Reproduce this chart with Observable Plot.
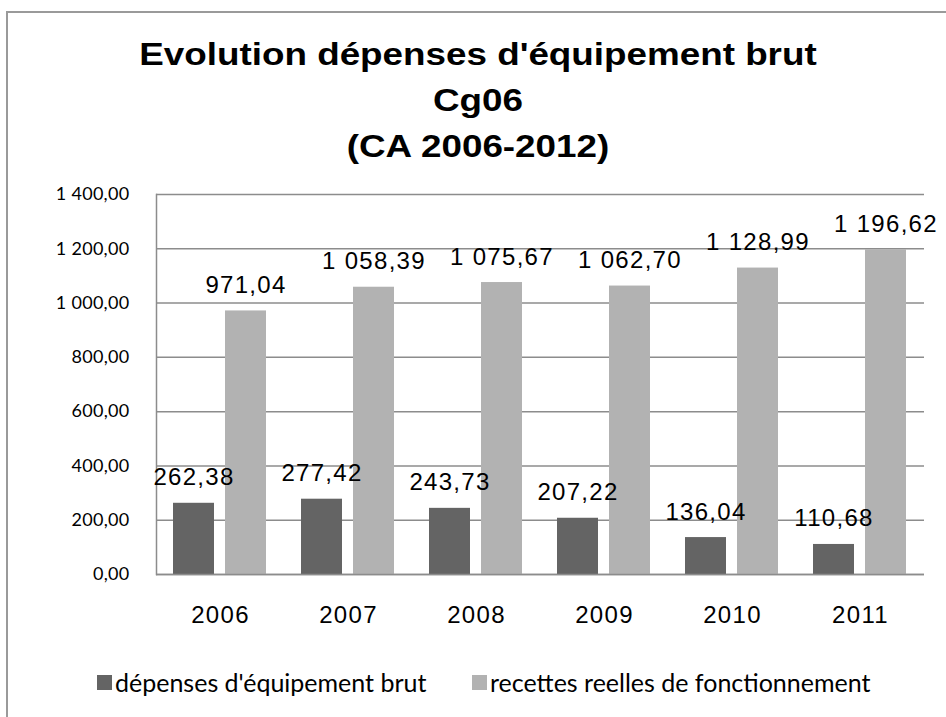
<!DOCTYPE html>
<html><head><meta charset="utf-8">
<script src="https://cdn.jsdelivr.net/npm/d3@7"></script>
<script src="https://cdn.jsdelivr.net/npm/@observablehq/plot@0.6"></script>
<style>
html,body{margin:0;padding:0;background:#fff;width:946px;height:717px;overflow:hidden;position:relative}
#frame{position:absolute;left:6px;top:11px;width:960px;height:740px;border:2px solid #9a9a9a;box-sizing:border-box}
#title{position:absolute;left:0;top:31px;width:956px;text-align:center;font:bold 32px "Liberation Sans",Arial,sans-serif;line-height:46px;color:#000;transform:scaleX(1.15);transform-origin:478px 0}
#chart{position:absolute;left:0;top:170px}
#chart svg text{letter-spacing:1.3px}
#chart svg g[aria-label="y-axis tick label"] text{letter-spacing:0.3px}
.leg{position:absolute;top:670px;height:24px;display:flex;align-items:center;font:25px Lato,sans-serif;color:#000;white-space:nowrap}
.sw{width:15px;height:15px;margin-right:3px;display:inline-block}
</style></head><body>
<div id="frame"></div>
<div id="title">Evolution dépenses d'équipement brut<br>Cg06<br>(CA 2006-2012)</div>
<div id="chart"></div>
<div class="leg" style="left:97px"><span class="sw" style="background:#646464"></span>dépenses d'équipement brut</div>
<div class="leg" style="left:472px"><span class="sw" style="background:#b2b2b2"></span>recettes reelles de fonctionnement</div>
<script>
const years = ["2006", "2007", "2008", "2009", "2010", "2011"];
const depenses = [262.38, 277.42, 243.73, 207.22, 136.04, 110.68];
const recettes = [971.04, 1058.39, 1075.67, 1062.70, 1128.99, 1196.62];
const seriesNames = ["dépenses d'équipement brut", "recettes reelles de fonctionnement"];
const seriesColors = ["#646464", "#b2b2b2"];
const yTicks = [0, 200, 400, 600, 800, 1000, 1200, 1400];

const locale = d3.formatLocale({decimal: ",", thousands: "\u00a0", grouping: [3], currency: ["", ""]});
const fmt = locale.format(",.2f");

const rows = years.flatMap((yr, i) => [
  {year: yr, series: seriesNames[0], value: depenses[i]},
  {year: yr, series: seriesNames[1], value: recettes[i]}
]);

const chart = Plot.plot({
  width: 946, height: 480,
  marginTop: 24, marginBottom: 76, marginLeft: 155, marginRight: 21,
  style: {fontFamily: '"Liberation Sans", Arial, sans-serif', fontSize: "24px", color: "#000", background: "transparent"},
  fx: {domain: years, padding: 0, label: null},
  x: {domain: seriesNames, paddingInner: 0.2075, paddingOuter: 0.314, axis: null},
  y: {domain: [0, 1400], axis: null, label: null},
  color: {domain: seriesNames, range: seriesColors},
  marks: [
    Plot.gridY(yTicks, {stroke: "#8c8c8c", strokeOpacity: 1, strokeWidth: 1.5}),
    Plot.frame({anchor: "left", facetAnchor: "left", stroke: "#8c8c8c", strokeWidth: 1.5}),
    Plot.barY(rows, {fx: "year", x: "series", y: "value", fill: "series"}),
    Plot.ruleY([0], {stroke: "#8c8c8c", strokeWidth: 1.5}),
    Plot.text(rows, {fx: "year", x: "series", y: "value", text: d => fmt(d.value), lineAnchor: "bottom", dy: -18, fill: "#000", fontSize: 24}),
    Plot.axisY(yTicks, {tickSize: 0, tickPadding: 27, tickFormat: fmt, fontSize: 18, fontFamily: "Lato, sans-serif", label: null}),
    Plot.axisFx({anchor: "bottom", tickSize: 0, tickPadding: 31, fontSize: 24, label: null})
  ]
});
document.getElementById("chart").appendChild(chart);
</script>
</body></html>
